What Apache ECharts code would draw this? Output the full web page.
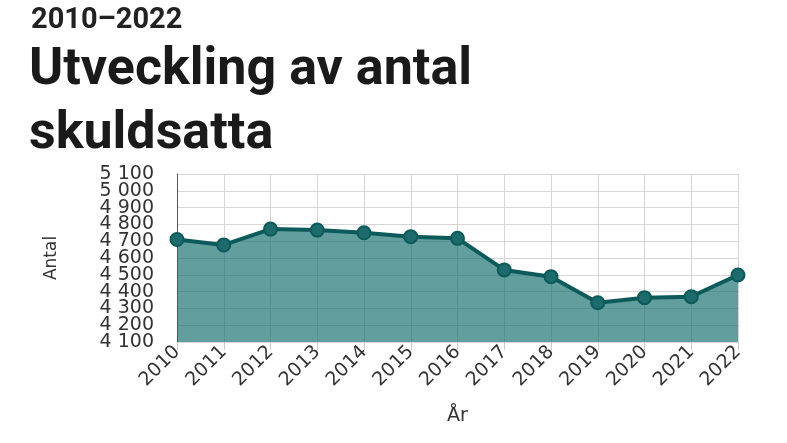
<!DOCTYPE html>
<html><head><meta charset="utf-8">
<script src="https://cdn.jsdelivr.net/npm/echarts@6/dist/echarts.min.js"></script>
<style>html,body{margin:0;padding:0;background:#fff}#c{width:787px;height:443px}</style>
</head><body><div id="c"></div>
<script>
const years = ['2010','2011','2012','2013','2014','2015','2016','2017','2018','2019','2020','2021','2022'];
const antal = [4710, 4678, 4772, 4766, 4750, 4727, 4717, 4529, 4489, 4334, 4364, 4370, 4499];
const yTickLabels = ['4 100','4 200','4 300','4 400','4 500','4 600','4 700','4 800','4 900','5 000','5 100'];
const subtitle = '2010–2022';
const titleText = 'Utveckling av antal\nskuldsatta';
const yMin = 4100, yMax = 5100, yStep = 100;

const chart = echarts.init(document.getElementById('c'));
chart.setOption({
  animation: false,
  title: [
    {text: subtitle, left: 26, top: 1, textStyle: {fontFamily: 'Roboto', fontWeight: 'bold', fontSize: 29, color: '#222'}},
    {text: titleText, left: 24, top: 34, textStyle: {fontFamily: 'Roboto', fontWeight: 'bold', fontSize: 52, lineHeight: 64, color: '#1a1a1a'}}
  ],
  grid: {left: 177, right: 49, top: 174, bottom: 101, containLabel: false},
  xAxis: {
    type: 'category', data: years, boundaryGap: false,
    name: 'År', nameLocation: 'middle', nameGap: 65,
    nameTextStyle: {fontFamily: 'DejaVu Sans', fontSize: 19, color: '#333'},
    axisLine: {show: false},
    axisTick: {show: true, length: 8, lineStyle: {color: '#ccc'}},
    axisLabel: {rotate: 45, fontFamily: 'DejaVu Sans', fontSize: 19, color: '#333', margin: 7},
    splitLine: {show: true, lineStyle: {color: '#d6d6d6', width: 1}}
  },
  yAxis: [{
    type: 'value', min: yMin, max: yMax, interval: yStep,
    name: 'Antal', nameLocation: 'middle', nameGap: 117, nameRotate: 90,
    nameTextStyle: {fontFamily: 'DejaVu Sans', fontSize: 17, color: '#333'},
    axisLine: {show: true, lineStyle: {color: '#555', width: 1}},
    axisTick: {show: false},
    axisLabel: {show: false},
    splitLine: {show: true, lineStyle: {color: '#d6d6d6', width: 1}}
  }, {
    type: 'category', data: yTickLabels, boundaryGap: false, position: 'left',
    axisLine: {show: false}, axisTick: {show: false}, splitLine: {show: false},
    axisLabel: {interval: 0, fontFamily: 'DejaVu Sans', fontSize: 19, color: '#333', margin: 23}
  }],
  series: [{
    type: 'line', data: antal, yAxisIndex: 0,
    symbol: 'circle', symbolSize: 13,
    lineStyle: {color: '#0d5a5b', width: 4},
    itemStyle: {color: '#1d6b6c', borderColor: '#0d5a5b', borderWidth: 2},
    areaStyle: {color: 'rgba(22,112,111,0.68)', opacity: 1}
  }]
});
</script></body></html>
